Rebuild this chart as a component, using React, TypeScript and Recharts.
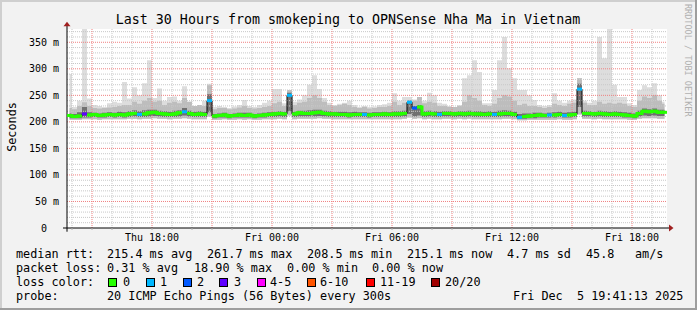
import React from 'react';
import {
  ComposedChart,
  Area,
  Line,
  XAxis,
  YAxis,
  ReferenceLine,
  ReferenceArea,
  ReferenceDot,
} from 'recharts';

// ---- data (15-minute buckets, 30 hours starting Thu 13:45) ----
const medianMs = [
  212, 210, 211, 215, 213, 214, 212, 213, 214, 213,
  214, 213, 215, 216, 214, 215, 217, 218, 216, 215,
  214, 215, 217, 219, 216, 214, 215, 214, 240, 211,
  212, 213, 211, 212, 213, 212, 213, 211, 212, 213,
  214, 215, 216, 215, 250, 215, 217, 216, 216, 217,
  218, 216, 215, 215, 214, 214, 213, 214, 214, 214,
  213, 214, 214, 215, 214, 215, 215, 216, 237, 226,
  228, 215, 216, 215, 214, 216, 216, 215, 216, 215,
  216, 215, 215, 214, 215, 214, 215, 216, 216, 214,
  208.5, 210, 211, 212, 213, 212, 213, 213, 214, 212,
  213, 214, 261.7, 216, 216, 215, 216, 215, 214, 215,
  214, 213, 212, 211, 216, 220, 219, 220, 218, 218,
];

const lossCount = [
  0, 0, 0, 3, 0, 0, 0, 0, 0, 0,
  0, 0, 0, 0, 1, 0, 0, 0, 0, 0,
  0, 0, 0, 1, 0, 0, 0, 0, 1, 0,
  0, 0, 0, 0, 0, 0, 0, 0, 0, 0,
  0, 0, 0, 0, 1, 0, 0, 0, 0, 0,
  0, 0, 0, 0, 0, 0, 0, 0, 0, 1,
  0, 0, 0, 0, 0, 0, 0, 0, 1, 2,
  0, 0, 0, 0, 1, 0, 0, 0, 0, 0,
  0, 0, 0, 0, 0, 1, 0, 0, 0, 0,
  1, 0, 0, 0, 0, 0, 1, 0, 0, 1,
  0, 0, 1, 0, 0, 0, 0, 0, 0, 0,
  0, 0, 0, 0, 0, 0, 0, 0, 0, 0,
];

const smokeMin = [
  204, 204, 204, 205, 205, 205, 204, 205, 205, 205,
  205, 205, 206, 206, 205, 206, 206, 207, 206, 206,
  205, 206, 206, 207, 206, 205, 205, 205, 210, 204,
  204, 205, 204, 204, 205, 204, 205, 204, 204, 205,
  205, 205, 206, 205, 212, 205, 206, 206, 206, 206,
  207, 206, 206, 205, 205, 205, 205, 205, 205, 205,
  205, 205, 205, 205, 205, 205, 205, 206, 208, 206,
  207, 205, 206, 205, 205, 206, 206, 205, 206, 205,
  206, 205, 205, 205, 205, 205, 205, 206, 206, 205,
  203, 203, 204, 204, 204, 204, 204, 204, 205, 204,
  204, 205, 214, 206, 206, 205, 206, 205, 205, 205,
  205, 205, 204, 204, 206, 207, 207, 207, 206, 206,
];

const smokeDarkLow = [
  207, 207, 207, 208, 208, 209, 208, 208, 209, 208,
  209, 208, 209, 210, 209, 209, 210, 211, 210, 209,
  209, 209, 210, 212, 210, 209, 209, 209, 218, 207,
  208, 208, 207, 208, 208, 208, 208, 207, 208, 208,
  209, 209, 210, 209, 220, 209, 210, 210, 210, 210,
  211, 210, 209, 209, 209, 209, 208, 209, 209, 209,
  208, 209, 209, 209, 209, 209, 209, 210, 215, 210,
  212, 209, 210, 209, 209, 210, 210, 209, 210, 209,
  210, 209, 209, 209, 209, 209, 209, 210, 210, 209,
  206, 206, 207, 207, 208, 208, 208, 208, 209, 208,
  208, 209, 228, 210, 210, 209, 210, 209, 209, 209,
  209, 208, 208, 207, 210, 212, 211, 212, 211, 211,
];

const smokeDarkHigh = [
  216, 215, 218, 228, 218, 217, 216, 217, 218, 217,
  219, 218, 220, 222, 220, 222, 223, 223, 221, 220,
  219, 221, 222, 226, 221, 219, 220, 219, 252, 215,
  216, 217, 215, 216, 217, 217, 217, 215, 216, 217,
  218, 219, 220, 219, 255, 219, 221, 221, 222, 223,
  223, 221, 220, 219, 219, 219, 218, 219, 218, 218,
  217, 218, 218, 219, 218, 220, 220, 221, 240, 230,
  232, 220, 221, 220, 219, 220, 220, 219, 220, 220,
  221, 220, 220, 219, 220, 219, 221, 222, 221, 219,
  215, 216, 216, 217, 217, 216, 217, 218, 219, 217,
  218, 219, 272, 221, 220, 219, 221, 220, 219, 220,
  219, 218, 217, 216, 221, 225, 224, 225, 223, 223,
];

const smokeMid = [
  226, 224, 230, 237, 230, 226, 225, 226, 227, 228,
  230, 232, 232, 238, 234, 240, 245, 238, 240, 232,
  236, 238, 235, 245, 238, 230, 232, 230, 269, 224,
  226, 226, 224, 225, 227, 230, 226, 225, 226, 228,
  230, 235, 238, 230, 260, 232, 236, 238, 245, 250,
  245, 238, 232, 230, 232, 234, 232, 228, 226, 228,
  225, 226, 228, 228, 230, 238, 232, 236, 241, 240,
  247, 235, 238, 236, 230, 230, 228, 228, 230, 238,
  250, 245, 240, 232, 230, 234, 245, 250, 248, 240,
  232, 234, 230, 230, 228, 226, 228, 234, 232, 230,
  234, 236, 282, 236, 232, 232, 238, 234, 236, 234,
  236, 234, 230, 228, 240, 248, 245, 250, 240, 234,
];

const smokeMax = [
  290, 228, 240, 375, 244, 232, 230, 228, 235, 238,
  236, 275, 244, 265, 250, 273, 316, 245, 263, 240,
  247, 248, 240, 267, 238, 230, 232, 240, 272, 228,
  230, 228, 226, 229, 232, 241, 230, 228, 232, 236,
  240, 262, 262, 235, 260, 238, 242, 250, 270, 288,
  262, 245, 236, 232, 234, 236, 240, 232, 228, 230,
  228, 229, 232, 233, 236, 254, 240, 247, 247, 242,
  247, 240, 255, 250, 236, 234, 230, 228, 232, 282,
  288, 316, 294, 235, 235, 260, 316, 360, 301, 282,
  260, 260, 250, 241, 232, 230, 232, 254, 240, 236,
  240, 242, 282, 240, 236, 240, 360, 320, 375, 270,
  247, 247, 235, 232, 260, 269, 265, 273, 250, 238,
];

const xLabelHours = [4.25, 10.25, 16.25, 22.25, 28.25];
const xLabelTexts = ['Thu 18:00', 'Fri 00:00', 'Fri 06:00', 'Fri 12:00', 'Fri 18:00'];
const yTicks = [0, 50, 100, 150, 200, 250, 300, 350];
const yTickTexts = ['0', '50 m', '100 m', '150 m', '200 m', '250 m', '300 m', '350 m'];

const lossLabels = ['0', '1', '2', '3', '4-5', '6-10', '11-19', '20/20'];
const lossColors = ['#26ff00', '#00b8ff', '#0059ff', '#5e00ff', '#ff00ff', '#ff5500', '#ff0000', '#a10000'];

const titleText = 'Last 30 Hours from smokeping to OPNSense Nha Ma in Vietnam';
const rttStats = ['215.4 ms avg', '261.7 ms max', '208.5 ms min', '215.1 ms now', '4.7 ms sd', '45.8', 'am/s'];
const lossStats = ['0.31 % avg', '18.90 % max', '0.00 % min', '0.00 % now'];
const probeText = '20 ICMP Echo Pings (56 Bytes) every 300s';
const dateText = 'Fri Dec  5 19:41:13 2025';

// ---- derived table ----
const lossIndex = (n: number) =>
  n <= 0 ? 0 : n === 1 ? 1 : n === 2 ? 2 : n === 3 ? 3 : n <= 5 ? 4 : n <= 10 ? 5 : n <= 19 ? 6 : 7;

const rows = medianMs.map((m, i) => ({
  t: 0.125 + 0.25 * i,
  med: m,
  loss: lossCount[i],
  green: lossCount[i] === 0 ? m : null,
  light: [smokeMin[i], smokeMax[i]],
  mid: [smokeMin[i], smokeMid[i]],
  dark: [smokeDarkLow[i], smokeDarkHigh[i]],
}));

const hourTicks: number[] = [];
for (let k = 0; k < 30; k++) hourTicks.push(0.25 + k);
const majorV = hourTicks.filter((h) => Math.round(h - 1.25) % 3 === 0);
const minorV = hourTicks.filter((h) => Math.round(h - 1.25) % 3 !== 0);
const minorH: number[] = [];
for (let v = 10; v < 375; v += 10) if (v % 50 !== 0) minorH.push(v);
const majorH = yTicks.filter((v) => v > 0);

const W = 697;
const H = 310;
const mono = '"DejaVu Sans Mono", monospace';

const XTick = (props: any) => {
  const { x, y, payload } = props;
  const idx = xLabelHours.indexOf(payload.value);
  if (idx < 0) return <g />;
  return (
    <text x={x} y={y} dy={9} textAnchor="middle" fontFamily={mono} fontSize={10} fill="#000">
      {xLabelTexts[idx]}
    </text>
  );
};

const YTick = (props: any) => {
  const { x, y, payload } = props;
  const idx = yTicks.indexOf(payload.value);
  const txt = yTickTexts[idx] ?? '';
  return (
    <text x={x} y={y} dy={3.5} textAnchor="end" fontFamily={mono} fontSize={10} fill="#000"
      style={{ whiteSpace: 'pre' }}>
      {idx === 0 ? '0  ' : txt}
    </text>
  );
};

const lossDot = (props: any) => {
  const { cx, cy, index, payload } = props;
  if (cx == null || cy == null) return <g key={`d${index}`} />;
  const c = lossColors[lossIndex(payload.loss)];
  return <rect key={`d${index}`} x={cx - 2.5} y={cy - 1.5} width={5} height={3} fill={c} />;
};

const arrowRight = (p: any) => (
  <path d={`M${p.cx - 2},${p.cy - 3.5} L${p.cx + 2.5},${p.cy} L${p.cx - 2},${p.cy + 3.5} Z`} fill="#a02020" />
);
const arrowUp = (p: any) => (
  <path d={`M${p.cx - 3.5},${p.cy + 2} L${p.cx},${p.cy - 2.5} L${p.cx + 3.5},${p.cy + 2} Z`} fill="#a02020" />
);

const swatchX = [108.5, 146.5, 183.5, 219.5, 257.5, 307.5, 366.5, 431.5];
const swatchLabelX = [123, 160, 197, 234, 270, 320, 380, 445];
const rttX = [107, 207, 307, 407, 507, 586, 635];
const lossX = [107, 194, 287, 372];

function Overlay() {
  const t = { fontFamily: mono, fontSize: 11.8, fill: '#000' } as const;
  return (
    <svg width={W} height={H} style={{ position: 'absolute', left: 0, top: 0, pointerEvents: 'none' }}>
      <rect x={0} y={0} width={W} height={2} fill="#cfcfcf" />
      <rect x={0} y={0} width={2} height={H} fill="#cfcfcf" />
      <rect x={0} y={H - 2} width={W} height={2} fill="#9e9e9e" />
      <rect x={W - 2} y={0} width={2} height={H} fill="#9e9e9e" />
      <text x={348} y={23.5} textAnchor="middle" fontFamily={mono} fontSize={13.3} fill="#000">
        {titleText}
      </text>
      <text transform="translate(15.5,127) rotate(-90)" textAnchor="middle" {...t}>Seconds</text>
      <text transform="translate(685,4) rotate(90)" fontFamily={mono} fontSize={8.5} fill="#b0b0b0">
        RRDTOOL / TOBI OETIKER
      </text>

      <text x={16} y={258} {...t}>median rtt:</text>
      {rttStats.map((s, i) => (
        <text key={`r${i}`} x={rttX[i]} y={258} {...t}>{s}</text>
      ))}
      <text x={16} y={272} {...t}>packet loss:</text>
      {lossStats.map((s, i) => (
        <text key={`l${i}`} x={lossX[i]} y={272} {...t}>{s}</text>
      ))}
      <text x={16} y={286} {...t}>loss color:</text>
      {lossLabels.map((s, i) => (
        <g key={`c${i}`}>
          <rect x={swatchX[i]} y={278.5} width={8} height={8} fill={lossColors[i]} stroke="#000" strokeWidth={1} />
          <text x={swatchLabelX[i]} y={286} {...t}>{s}</text>
        </g>
      ))}
      <text x={16} y={300} {...t}>probe:</text>
      <text x={107} y={300} {...t}>{probeText}</text>
      <text x={513} y={300} {...t} style={{ whiteSpace: 'pre' }}>{dateText}</text>
    </svg>
  );
}

export default function App() {
  return (
    <div style={{ position: 'absolute', left: 0, top: 0, width: W, height: H, background: '#f2f2f2' }}>
      <ComposedChart
        width={W}
        height={H}
        data={rows}
        margin={{ top: 29, right: 30, bottom: 62, left: 0 }}
        style={{ position: 'absolute', left: 0, top: 0 }}
      >
        <XAxis
          type="number"
          dataKey="t"
          domain={[0, 30]}
          ticks={hourTicks}
          interval={0}
          axisLine={false}
          tickLine={{ stroke: '#b0b0b0' }}
          tickSize={2}
          height={20}
          tick={XTick}
          allowDataOverflow
        />
        <YAxis
          type="number"
          domain={[0, 375]}
          ticks={yTicks}
          interval={0}
          width={67}
          axisLine={false}
          tickLine={false}
          tickSize={0}
          tickMargin={8}
          tick={YTick}
          allowDataOverflow
        />
        <ReferenceArea x1={0} x2={30} y1={0} y2={375} fill="#ffffff" fillOpacity={1} stroke="none" ifOverflow="visible" />
        {minorH.map((v) => (
          <ReferenceLine key={`mh${v}`} y={v} stroke="#c8c8c8" strokeDasharray="1 1" />
        ))}
        {minorV.map((v) => (
          <ReferenceLine key={`mv${v}`} x={v} stroke="#c8c8c8" strokeDasharray="1 1" />
        ))}
        {majorH.map((v) => (
          <ReferenceLine key={`Mh${v}`} y={v} stroke="#f08080" strokeDasharray="1 1" />
        ))}
        {majorV.map((v) => (
          <ReferenceLine key={`Mv${v}`} x={v} stroke="#f08080" strokeDasharray="1 1" />
        ))}
        <Area dataKey="light" type="step" stroke="none" fill="#dddddd" fillOpacity={1} isAnimationActive={false} />
        <Area dataKey="mid" type="step" stroke="none" fill="#bdbdbd" fillOpacity={1} isAnimationActive={false} />
        <Area dataKey="dark" type="step" stroke="none" fill="#707070" fillOpacity={1} isAnimationActive={false} />
        <Line dataKey="med" type="step" stroke="#000000" strokeWidth={1} dot={false} isAnimationActive={false} />
        <Line dataKey="green" type="step" stroke="#26ff00" strokeWidth={3} dot={false} connectNulls={false} isAnimationActive={false} />
        <Line dataKey="med" type="step" stroke="none" dot={lossDot} activeDot={false} isAnimationActive={false} />
        <ReferenceLine segment={[{ x: -0.2, y: 0 }, { x: 30.1, y: 0 }]} stroke="#000" strokeWidth={1} ifOverflow="visible" />
        <ReferenceLine segment={[{ x: 0, y: -7 }, { x: 0, y: 381 }]} stroke="#000" strokeWidth={1} ifOverflow="visible" />
        <ReferenceDot x={30.2} y={0} r={3} shape={arrowRight} ifOverflow="visible" />
        <ReferenceDot x={0} y={384} r={3} shape={arrowUp} ifOverflow="visible" />
      </ComposedChart>
      <Overlay />
    </div>
  );
}
